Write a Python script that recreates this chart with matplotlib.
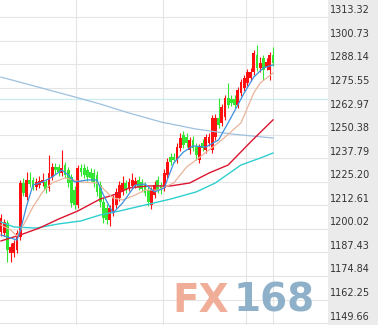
import matplotlib
matplotlib.use('Agg')
import matplotlib.pyplot as plt

# candle data (red = up, green = down)
opens = [1198.4, 1197.9, 1203.2, 1187.2, 1187.2, 1188.8, 1195.7, 1224.6, 1217.1, 1226.2,
         1226.2, 1222.4, 1223.5, 1224.6, 1225.1, 1221.9, 1227.8, 1233.1, 1233.1, 1229.9,
         1234.2, 1231.5, 1227.8, 1220.8, 1212.8, 1232.6, 1232.6, 1231.5, 1230.5, 1229.9,
         1228.9, 1223.5, 1214.4, 1211.2, 1204.8, 1209.1, 1212.8, 1216.6, 1219.8, 1224.6,
         1221.9, 1223.0, 1223.5, 1226.2, 1225.1, 1223.5, 1220.8, 1212.8, 1218.2, 1226.2,
         1223.5, 1221.9, 1228.9, 1238.5, 1238.5, 1236.9, 1243.3, 1250.2, 1249.2, 1242.2,
         1247.6, 1243.8, 1236.9, 1246.0, 1242.2, 1246.0, 1242.2, 1249.2, 1259.3, 1256.7,
         1259.9, 1270.0, 1269.5, 1269.5, 1266.3, 1272.7, 1275.4, 1278.0, 1280.7, 1283.9,
         1293.0, 1286.1, 1291.4, 1286.6, 1285.0, 1293.0]
closes = [1205.9, 1203.7, 1188.8, 1190.4, 1192.5, 1197.9, 1224.6, 1219.2, 1226.2, 1224.0,
          1222.4, 1225.1, 1225.7, 1226.2, 1220.8, 1229.9, 1233.1, 1231.5, 1230.5, 1232.6,
          1228.9, 1224.6, 1213.9, 1212.8, 1232.6, 1230.5, 1228.9, 1227.8, 1227.3, 1224.6,
          1219.8, 1214.4, 1205.9, 1204.8, 1211.2, 1216.6, 1219.8, 1223.5, 1224.6, 1220.8,
          1225.1, 1226.2, 1225.7, 1222.4, 1221.4, 1219.2, 1214.4, 1220.8, 1223.5, 1220.8,
          1220.8, 1229.9, 1235.8, 1235.8, 1236.9, 1243.8, 1248.6, 1244.9, 1246.0, 1247.6,
          1243.3, 1239.6, 1243.8, 1243.3, 1249.2, 1249.2, 1259.3, 1259.3, 1255.6, 1265.2,
          1270.0, 1266.3, 1267.4, 1266.3, 1274.3, 1278.6, 1280.7, 1283.9, 1283.9, 1294.1,
          1286.1, 1288.7, 1285.0, 1289.3, 1293.0, 1288.7]
highs = [1208.0, 1205.3, 1204.8, 1192.5, 1194.1, 1199.5, 1226.2, 1227.3, 1230.5, 1230.5,
         1227.8, 1227.3, 1228.3, 1229.9, 1226.7, 1239.6, 1235.3, 1235.3, 1234.7, 1242.2,
         1235.8, 1233.1, 1229.4, 1223.0, 1234.2, 1234.7, 1234.7, 1233.7, 1232.6, 1232.1,
         1231.0, 1225.7, 1216.6, 1213.4, 1212.8, 1218.2, 1221.9, 1225.7, 1228.3, 1226.2,
         1227.3, 1229.9, 1227.8, 1228.3, 1226.7, 1225.1, 1222.4, 1222.4, 1225.7, 1228.3,
         1225.1, 1232.1, 1237.9, 1240.6, 1240.6, 1246.0, 1251.3, 1252.4, 1251.3, 1249.2,
         1249.7, 1246.0, 1245.4, 1248.1, 1250.8, 1251.3, 1260.9, 1261.5, 1270.0, 1266.8,
         1271.6, 1278.0, 1271.6, 1271.6, 1275.9, 1280.2, 1282.3, 1285.5, 1286.1, 1295.7,
         1298.4, 1291.9, 1293.0, 1291.4, 1294.6, 1297.3]
lows = [1196.2, 1196.2, 1182.3, 1182.3, 1185.0, 1187.2, 1194.1, 1217.6, 1215.5, 1222.4,
        1220.8, 1220.8, 1221.9, 1223.0, 1219.2, 1220.3, 1226.2, 1229.4, 1228.3, 1228.3,
        1227.3, 1222.4, 1211.8, 1210.7, 1211.2, 1228.3, 1227.3, 1225.7, 1225.7, 1222.4,
        1217.6, 1211.8, 1203.2, 1202.7, 1201.6, 1206.9, 1211.2, 1215.0, 1218.2, 1219.2,
        1220.3, 1221.4, 1221.9, 1220.8, 1219.8, 1217.6, 1212.3, 1210.7, 1216.6, 1219.2,
        1218.7, 1220.3, 1227.3, 1234.2, 1235.3, 1235.3, 1241.7, 1243.3, 1243.8, 1240.1,
        1241.7, 1236.9, 1235.3, 1241.7, 1240.6, 1244.4, 1240.6, 1247.6, 1254.0, 1255.1,
        1258.3, 1264.7, 1265.7, 1264.7, 1264.7, 1271.1, 1273.8, 1276.4, 1279.1, 1282.3,
        1284.5, 1283.9, 1279.6, 1285.0, 1279.6, 1287.1]

# moving averages (candle index, price)
ma5_idx = [0, 5, 6, 8, 10, 13, 16, 19, 21, 23, 27, 30, 32, 35, 38, 42, 45, 48, 51, 54,
           57, 60, 64, 68, 72, 76, 79, 82, 85]
ma5 = [1196.8, 1194.1, 1198.9, 1212.3, 1223.5, 1225.1, 1227.8, 1231.5, 1228.9, 1225.1,
       1226.2, 1226.2, 1218.2, 1208.5, 1213.9, 1223.5, 1224.0, 1219.8, 1221.9, 1235.3,
       1241.1, 1244.4, 1243.8, 1247.6, 1259.9, 1272.7, 1281.2, 1286.1, 1287.7]
ma10_idx = [0, 3, 5, 7, 10, 13, 16, 20, 25, 30, 35, 38, 42, 45, 49, 54, 58, 61, 65, 69,
            75, 79, 81, 85]
ma10 = [1202.1, 1199.5, 1196.2, 1202.1, 1211.8, 1219.8, 1224.6, 1227.3, 1225.1, 1224.6,
        1216.6, 1215.5, 1218.2, 1220.8, 1220.8, 1224.6, 1233.1, 1236.9, 1242.2, 1247.6,
        1256.7, 1272.7, 1278.0, 1283.4]
ma_red_idx = [0, 6, 12, 18, 24, 31, 36, 40, 46, 53, 59, 65, 71, 78, 85]
ma_red = [1193.6, 1196.8, 1200.5, 1205.3, 1209.6, 1216.0, 1218.7, 1221.9, 1223.0, 1223.0,
          1224.6, 1229.9, 1234.2, 1246.5, 1258.3]
ma_cyan_idx = [0, 4, 11, 18, 25, 31, 37, 45, 53, 61, 67, 75, 81, 85]
ma_cyan = [1203.7, 1201.1, 1200.5, 1202.7, 1204.3, 1207.5, 1209.6, 1212.8, 1216.0, 1219.8,
           1224.6, 1234.2, 1237.9, 1240.6]
ma_long_idx = [0, 15, 23, 31, 40, 50, 61, 72, 85]
ma_long = [1281.2, 1274.3, 1270.6, 1266.8, 1262.0, 1257.2, 1253.4, 1250.8, 1248.6]

ref_level = 1269.5
ticks = [1313.32, 1300.73, 1288.14, 1275.55, 1262.97, 1250.38, 1237.79, 1225.20,
         1212.61, 1200.02, 1187.43, 1174.84, 1162.25, 1149.66]
vlines = [23.4, 50.6, 76.6, 85.0]

fig = plt.figure(figsize=(3.78, 3.25), dpi=100, facecolor='#ebebeb')
ax = fig.add_axes([0, 0, 328 / 378, 1])
ax.set_facecolor('white')
ax.set_xlim(-0.31, 102.2)
ax.set_ylim(1148.66, 1322.41)
for s in ax.spines.values():
    s.set_visible(False)
ax.set_xticks([])
ax.set_yticks([])

grid_c = '#e4e4e4'
for v in ticks:
    ax.axhline(v, color=grid_c, lw=0.8, zorder=0)
for v in vlines:
    ax.axvline(v, color=grid_c, lw=0.8, zorder=0)
ax.axhline(ref_level, color='#c9ecf1', lw=0.9, zorder=0)

up_c = '#ff1010'
dn_c = '#33e633'
for i in range(len(opens)):
    o, c = opens[i], closes[i]
    col = up_c if c >= o else dn_c
    ax.vlines(i, lows[i], highs[i], color=col, lw=0.8, zorder=2)
    ax.bar(i, max(abs(c - o), 0.4), bottom=min(o, c), width=0.88, color=col,
           linewidth=0, zorder=3)

ax.plot(ma_long_idx, ma_long, color='#9dc0de', lw=0.9, zorder=4)
ax.plot(ma_cyan_idx, ma_cyan, color='#2fcfcf', lw=1.0, zorder=4)
ax.plot(ma_red_idx, ma_red, color='#dc1430', lw=1.0, zorder=4)
ax.plot(ma10_idx, ma10, color='#eab49a', lw=0.9, zorder=5)
ax.plot(ma5_idx, ma5, color='#3a8fe0', lw=0.9, zorder=5)

for v in ticks:
    ax.annotate('%.2f' % v, xy=(1, v), xycoords=('axes fraction', 'data'),
                xytext=(1.6, 2.6), textcoords='offset points',
                ha='left', va='baseline', fontsize=7, color='#333333',
                annotation_clip=False)

# watermark
fig.text(229 / 378, 1 - 312 / 325, 'FX', ha='right', va='baseline',
         fontsize=28, fontweight='bold', color='#f0ae98', zorder=10)
fig.text(234 / 378, 1 - 312 / 325, '168', ha='left', va='baseline',
         fontsize=28, fontweight='bold', color='#8eb0c9', zorder=10)

fig.savefig('out.png', dpi=100, facecolor=fig.get_facecolor())
